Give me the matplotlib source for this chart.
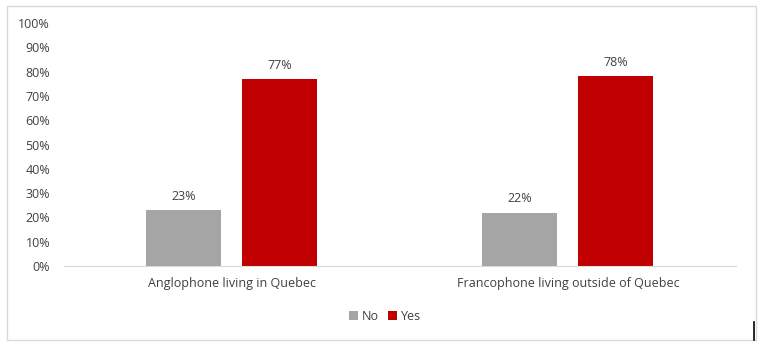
import matplotlib.pyplot as plt
from matplotlib.lines import Line2D
from matplotlib.patches import Rectangle
import numpy as np

categories = ["Anglophone living in Quebec", "Francophone living outside of Quebec"]
no_values = [23, 22]
yes_values = [77, 78]

plt.rcParams['font.family'] = ['Open Sans', 'DejaVu Sans']
text_color = '#404040'

fig = plt.figure(figsize=(7.65, 3.49), dpi=100)
ax = fig.add_axes([64 / 765, 83 / 349, 672 / 765, 243 / 349])

x = np.arange(len(categories))
w = 0.223
b1 = ax.bar(x - 0.144, no_values, w, color='#A5A5A5', label='No')
b2 = ax.bar(x + 0.142, yes_values, w, color='#C00000', label='Yes')

for bars, vals in ((b1, no_values), (b2, yes_values)):
    for r, v in zip(bars, vals):
        ax.text(r.get_x() + r.get_width() / 2, v + 3, f"{v}%", ha='center',
                va='bottom', fontsize=9, color=text_color)

ax.set_xlim(-0.5, 1.5)
ax.set_ylim(0, 100)
ax.set_yticks(range(0, 101, 10))
ax.set_yticklabels([f"{t}%" for t in range(0, 101, 10)], fontsize=9, color=text_color)
ax.set_xticks(x)
ax.set_xticklabels(categories, fontsize=9, color=text_color)
ax.tick_params(axis='both', length=0)
ax.tick_params(axis='y', pad=10)
ax.tick_params(axis='x', pad=8)
for s in ('top', 'right', 'left'):
    ax.spines[s].set_visible(False)
ax.spines['bottom'].set_color('#D9D9D9')

ax.legend(loc='center', bbox_to_anchor=(385 / 765, 33 / 349), bbox_transform=fig.transFigure,
          ncol=2, frameon=False, fontsize=9, handlelength=0.7, handleheight=0.7,
          handletextpad=0.3, columnspacing=0.8, labelcolor=text_color)

fig.add_artist(Rectangle((7 / 765, 9 / 349), 749 / 765, 334 / 349, transform=fig.transFigure,
                         fill=False, edgecolor='#D9D9D9', linewidth=1))
fig.add_artist(Line2D([754 / 765, 754 / 765], [9 / 349, 27 / 349], transform=fig.transFigure,
                      color='black', linewidth=1.2))

fig.savefig('out.png', dpi=100)
